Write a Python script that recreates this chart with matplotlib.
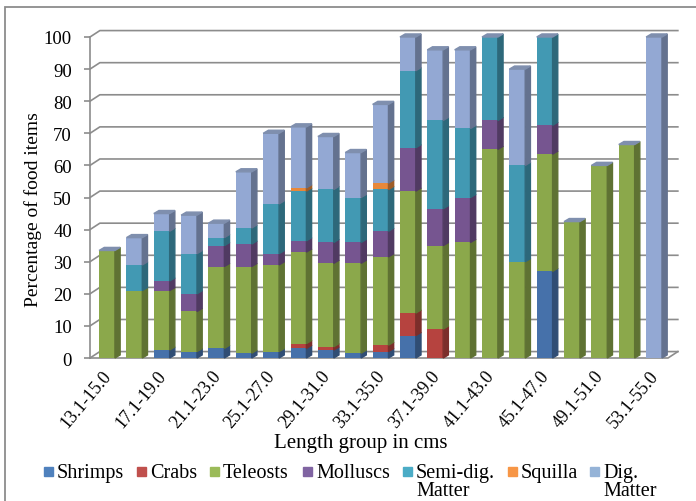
import numpy as np
import matplotlib
matplotlib.use('Agg')
import matplotlib.pyplot as plt
from matplotlib.patches import Polygon, Rectangle
from matplotlib.colors import to_rgb

plt.rcParams['font.family'] = ['Liberation Serif', 'DejaVu Serif']

# length groups (cm) and percentage of each food item per group
groups = ['13.1-15.0', '15.1-17.0', '17.1-19.0', '19.1-21.0', '21.1-23.0',
          '23.1-25.0', '25.1-27.0', '27.1-29.0', '29.1-31.0', '31.1-33.0',
          '33.1-35.0', '35.1-37.0', '37.1-39.0', '39.1-41.0', '41.1-43.0',
          '43.1-45.0', '45.1-47.0', '47.1-49.0', '49.1-51.0', '51.1-53.0',
          '53.1-55.0']
shrimps   = [0, 0, 2.5, 2, 3, 1.5, 2, 3, 2.5, 1.5, 2, 7, 0, 0, 0, 0, 27, 0, 0, 0, 0]
crabs     = [0, 0, 0, 0, 0, 0, 0, 1.5, 1, 0, 2, 7, 9, 0, 0, 0, 0, 0, 0, 0, 0]
teleosts  = [33.5, 21, 18.5, 12.5, 25.5, 27, 27, 28.5, 26, 28, 27.5, 38, 26, 36, 65, 30, 36.5, 42.5, 60, 66.5, 0]
molluscs  = [0, 0, 3, 5.5, 6.5, 7, 3.5, 3.5, 6.5, 6.5, 8, 13.5, 11.5, 14, 9, 0, 9, 0, 0, 0, 0]
semi_dig  = [0, 8, 15.5, 12.5, 2.5, 5, 15.5, 15.5, 16.5, 14, 13, 24, 27.5, 21.5, 26, 30, 27.5, 0, 0, 0, 0]
squilla   = [0, 0, 0, 0, 0, 0, 0, 1, 0, 0, 2, 0, 0, 0, 0, 0, 0, 0, 0, 0, 0]
dig       = [0, 8.5, 5.5, 12, 4.5, 17.5, 22, 19, 16.5, 14, 24.5, 10.5, 22, 24.5, 0, 30, 0, 0, 0, 0, 100]

series = [('Shrimps', shrimps), ('Crabs', crabs), ('Teleosts', teleosts),
          ('Molluscs', molluscs), ('Semi-dig.\nMatter', semi_dig),
          ('Squilla', squilla), ('Dig.\nMatter', dig)]
face_colors = ['#4671AA', '#B6433F', '#8BA84B', '#765590', '#4299B3', '#E8883A', '#93A8D3']
key_colors = ['#4F81BD', '#C0504D', '#9BBB59', '#8064A2', '#4BACC6', '#F79646', '#95B3D7']

W, H = 696, 502
fig = plt.figure(figsize=(W / 100, H / 100), dpi=100)

# grey frame round the chart area
fig.add_artist(Rectangle((5 / W, -0.05), 1.05, 1 - 8 / H + 0.05, transform=fig.transFigure,
                         fill=False, edgecolor='#8C8C8C', lw=1.3))

ax = fig.add_axes([90 / W, 1 - 359 / H, 578 / W, 321 / H])
x = np.arange(len(groups))
x_left, x_right = -0.622, 20.51
ax.set_xlim(x_left, x_right)
ax.set_ylim(0, 100)

grid_col = '#8C8C8C'
# back wall offset and bar depth (data units)
wall_dx, wall_dy = 0.36, 2.0
bar_w, side_dx, side_dy = 0.58, 0.19, 0.95

for v in range(0, 101, 10):
    ax.plot([x_left, x_left + wall_dx, x_right + wall_dx], [v, v + wall_dy, v + wall_dy],
            color=grid_col, lw=1.2, clip_on=False, zorder=1)
# floor
ax.plot([x_left, x_right, x_right + wall_dx], [0, 0, wall_dy], color=grid_col, lw=1.2,
        clip_on=False, zorder=1)


def shade(c, f):
    r, g, b = to_rgb(c)
    return (r * f, g * f, b * f)


bottoms = np.zeros(len(groups))
tops = np.sum([s for _, s in series], axis=0)
for (name, vals), col in zip(series, face_colors):
    vals = np.array(vals, dtype=float)
    ax.bar(x, vals, bar_w, bottom=bottoms, color=col, zorder=3, clip_on=False)
    for xi, b, v in zip(x, bottoms, vals):
        if v <= 0:
            continue
        r = xi + bar_w / 2
        ax.add_patch(Polygon([(r, b), (r + side_dx, b + side_dy), (r + side_dx, b + v + side_dy), (r, b + v)],
                             closed=True, color=shade(col, 0.68), zorder=3, clip_on=False))
    bottoms = bottoms + vals

# bar caps
for xi, t in zip(x, tops):
    l, r = xi - bar_w / 2, xi + bar_w / 2
    ax.add_patch(Polygon([(l, t), (l + side_dx, t + side_dy), (r + side_dx, t + side_dy), (r, t)],
                         closed=True, color='#7F8FAE', zorder=3, clip_on=False))

for sp in ['top', 'right', 'bottom']:
    ax.spines[sp].set_visible(False)
ax.spines['left'].set_color(grid_col)
ax.spines['left'].set_linewidth(1.2)
ax.set_yticks(range(0, 101, 10))
ax.tick_params(axis='y', direction='out', length=4, color=grid_col, width=1.2, pad=9,
               labelsize=13.5)
ax.set_xticks([])

for xi in x[::2]:
    ax.text(xi + 0.04, -0.046, groups[xi], transform=ax.get_xaxis_transform(),
            rotation=50, rotation_mode='anchor', ha='right', va='center', fontsize=13)

fig.text(361 / W, 1 - 444 / H, 'Length group in cms', ha='center', va='center', fontsize=15)
fig.text(33 / W, 1 - 210 / H, 'Percentage of food items', rotation=90, ha='center',
         va='center', fontsize=14)

# legend row
key_x = [44, 137, 210, 303, 403, 508, 590]
for (name, _), col, kx in zip(series, key_colors, key_x):
    fig.add_artist(Rectangle((kx / W, 1 - 477 / H), 9 / W, 9 / H, transform=fig.transFigure,
                             color=col))
    fig.text((kx + 13) / W, 1 - 464 / H, name, ha='left', va='top', fontsize=14.5,
             linespacing=0.95)

fig.savefig('out.png', dpi=100)
